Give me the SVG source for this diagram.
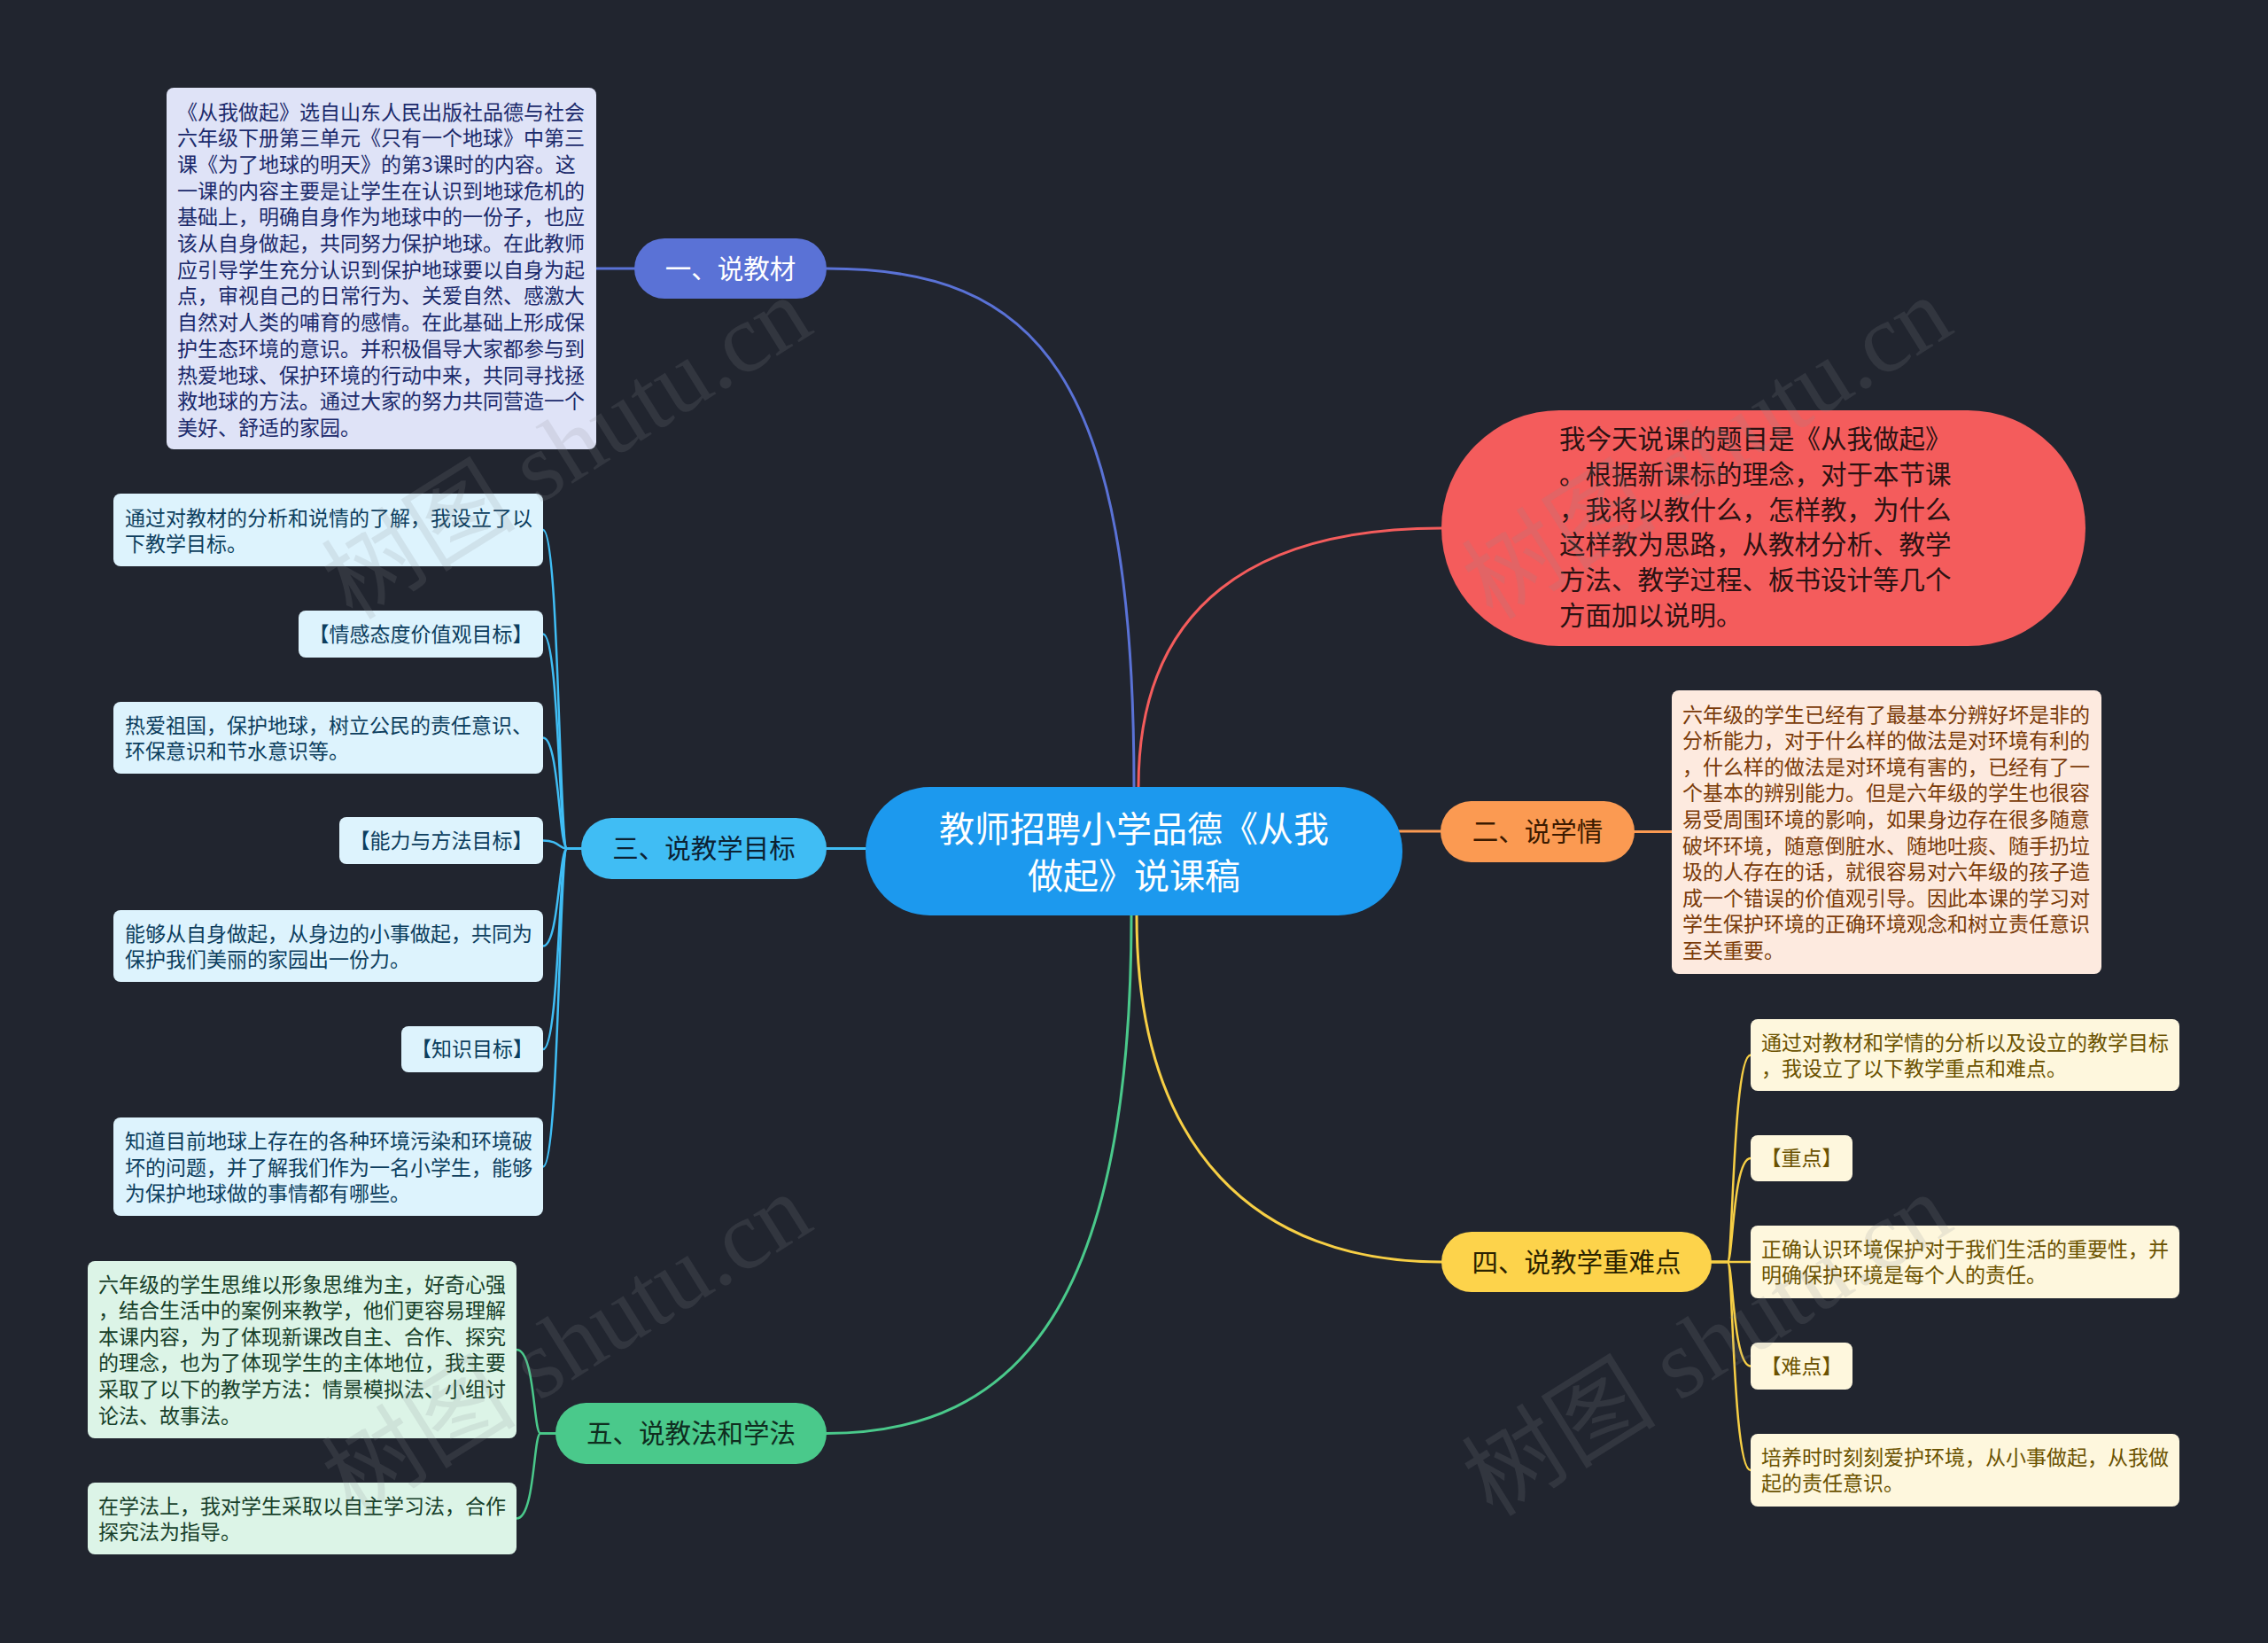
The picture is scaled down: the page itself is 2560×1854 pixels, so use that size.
<svg xmlns="http://www.w3.org/2000/svg" width="2560" height="1854" viewBox="0 0 2560 1854">
<style>
text{font-family:"Noto Sans CJK SC","Noto Sans",sans-serif;dominant-baseline:central}
text:not(.wm){transform:translateY(-2.5px)}
.s23{font-size:23px}
.s29{font-size:29.5px}
.mid{text-anchor:middle}
.wm{font-family:"Liberation Serif","Noto Sans CJK SC",serif;font-size:110px;fill:#8a8d94;opacity:0.16;text-anchor:middle}
</style>
<rect width="2560" height="1854" fill="#21252f"/>

<g id="connectors" fill="none" stroke-width="3" stroke-linecap="round">
  <path d="M1280 888 C1280 420 1170 303 933 303" stroke="#5a72d6"/>
  <path d="M716 303 H673" stroke="#5a72d6"/>
  <path d="M1285 888 C1285 680 1420 596 1627 596" stroke="#f45c5c"/>
  <path d="M1578 938 H1626" stroke="#fb9a52"/>
  <path d="M1845 938.5 H1887" stroke="#fb9a52"/>
  <path d="M977 957.5 H933" stroke="#40bdf4"/>
  <path d="M1283 1033 C1283 1300 1420 1424 1627 1424" stroke="#f7cf45"/>
  <path d="M1277 1033 C1277 1470 1150 1617.5 933 1617.5" stroke="#4ac98b"/>
  <g stroke="#40bdf4" stroke-width="2.5">
    <path d="M656 957.5 H640 C631 957.5 631 598 613 598"/>
    <path d="M656 957.5 H640 C631 957.5 631 715.5 613 715.5"/>
    <path d="M656 957.5 H640 C631 957.5 631 832.5 613 832.5"/>
    <path d="M656 957.5 H640 C631 957.5 631 948.5 613 948.5"/>
    <path d="M656 957.5 H640 C631 957.5 631 1067.5 613 1067.5"/>
    <path d="M656 957.5 H640 C631 957.5 631 1184 613 1184"/>
    <path d="M656 957.5 H640 C631 957.5 631 1316.5 613 1316.5"/>
  </g>
  <g stroke="#4ac98b" stroke-width="2.5">
    <path d="M627 1617.5 H610 C602 1617.5 604 1523 583 1523"/>
    <path d="M627 1617.5 H610 C602 1617.5 604 1713.5 583 1713.5"/>
  </g>
  <g stroke="#f7cf45" stroke-width="2.5">
    <path d="M1932 1424 H1950 C1956 1424 1956 1190.5 1976 1190.5"/>
    <path d="M1932 1424 H1950 C1956 1424 1956 1307 1976 1307"/>
    <path d="M1932 1424 H1976"/>
    <path d="M1932 1424 H1950 C1956 1424 1956 1541.5 1976 1541.5"/>
    <path d="M1932 1424 H1950 C1956 1424 1956 1659 1976 1659"/>
  </g>
</g>

<g id="root">
  <rect x="977" y="888" width="606" height="145" rx="72.5" fill="#1c99ee"/>
  <text class="mid" x="1280" y="935" font-size="40" fill="#ffffff">教师招聘小学品德《从我</text>
  <text class="mid" x="1280" y="988" font-size="40" fill="#ffffff">做起》说课稿</text>
</g>

<g id="intro">
  <rect x="1627" y="463" width="727" height="266" rx="133" fill="#f45c5c"/>
  <g class="s29" fill="#2b1212">
    <text x="1760" y="495.5">我今天说课的题目是《从我做起》</text>
    <text x="1760" y="535.3">。根据新课标的理念，对于本节课</text>
    <text x="1760" y="575.1">，我将以教什么，怎样教，为什么</text>
    <text x="1760" y="614.9">这样教为思路，从教材分析、教学</text>
    <text x="1760" y="654.7">方法、教学过程、板书设计等几个</text>
    <text x="1760" y="694.5">方面加以说明。</text>
  </g>
</g>

<g id="n1">
  <rect x="716" y="269" width="217" height="68" rx="34" fill="#5a72d6"/>
  <text class="s29 mid" x="824.5" y="303" fill="#ffffff">一、说教材</text>
</g>
<g id="n1-detail">
  <rect x="188" y="99" width="485" height="408" rx="8" fill="#dfe3f7"/>
  <g class="s23" fill="#1b2a6b">
    <text x="200" y="127">《从我做起》选自山东人民出版社品德与社会</text>
    <text x="200" y="156.7">六年级下册第三单元《只有一个地球》中第三</text>
    <text x="200" y="186.4">课《为了地球的明天》的第3课时的内容。这</text>
    <text x="200" y="216.1">一课的内容主要是让学生在认识到地球危机的</text>
    <text x="200" y="245.8">基础上，明确自身作为地球中的一份子，也应</text>
    <text x="200" y="275.5">该从自身做起，共同努力保护地球。在此教师</text>
    <text x="200" y="305.2">应引导学生充分认识到保护地球要以自身为起</text>
    <text x="200" y="334.9">点，审视自己的日常行为、关爱自然、感激大</text>
    <text x="200" y="364.6">自然对人类的哺育的感情。在此基础上形成保</text>
    <text x="200" y="394.3">护生态环境的意识。并积极倡导大家都参与到</text>
    <text x="200" y="424">热爱地球、保护环境的行动中来，共同寻找拯</text>
    <text x="200" y="453.7">救地球的方法。通过大家的努力共同营造一个</text>
    <text x="200" y="483.4">美好、舒适的家园。</text>
  </g>
</g>

<g id="n2">
  <rect x="1626" y="904" width="219" height="69" rx="34.5" fill="#fb9a52"/>
  <text class="s29 mid" x="1735.5" y="938.5" fill="#3b1a00">二、说学情</text>
</g>
<g id="n2-detail">
  <rect x="1887" y="779" width="485" height="320" rx="8" fill="#fdeadf"/>
  <g class="s23" fill="#7a3a08">
    <text x="1899" y="807">六年级的学生已经有了最基本分辨好坏是非的</text>
    <text x="1899" y="836.6">分析能力，对于什么样的做法是对环境有利的</text>
    <text x="1899" y="866.2">，什么样的做法是对环境有害的，已经有了一</text>
    <text x="1899" y="895.8">个基本的辨别能力。但是六年级的学生也很容</text>
    <text x="1899" y="925.4">易受周围环境的影响，如果身边存在很多随意</text>
    <text x="1899" y="955">破坏环境，随意倒脏水、随地吐痰、随手扔垃</text>
    <text x="1899" y="984.6">圾的人存在的话，就很容易对六年级的孩子造</text>
    <text x="1899" y="1014.2">成一个错误的价值观引导。因此本课的学习对</text>
    <text x="1899" y="1043.8">学生保护环境的正确环境观念和树立责任意识</text>
    <text x="1899" y="1073.4">至关重要。</text>
  </g>
</g>

<g id="n3">
  <rect x="656" y="923" width="277" height="69" rx="34.5" fill="#40bdf4"/>
  <text class="s29 mid" x="794.5" y="957.5" fill="#0c2233">三、说教学目标</text>
</g>
<g id="n3-a">
  <rect x="128" y="557" width="485" height="82" rx="8" fill="#ddf3fd"/>
  <text class="s23" x="141" y="585" fill="#0c3e5e">通过对教材的分析和说情的了解，我设立了以</text>
  <text class="s23" x="141" y="614" fill="#0c3e5e">下教学目标。</text>
</g>
<g id="n3-b">
  <rect x="337" y="689" width="276" height="53" rx="8" fill="#ddf3fd"/>
  <text class="s23 mid" x="475" y="716" fill="#0c3e5e">【情感态度价值观目标】</text>
</g>
<g id="n3-c">
  <rect x="128" y="792" width="485" height="81" rx="8" fill="#ddf3fd"/>
  <text class="s23" x="141" y="819.5" fill="#0c3e5e">热爱祖国，保护地球，树立公民的责任意识、</text>
  <text class="s23" x="141" y="848.5" fill="#0c3e5e">环保意识和节水意识等。</text>
</g>
<g id="n3-d">
  <rect x="383" y="922" width="230" height="53" rx="8" fill="#ddf3fd"/>
  <text class="s23 mid" x="498" y="949" fill="#0c3e5e">【能力与方法目标】</text>
</g>
<g id="n3-e">
  <rect x="128" y="1027" width="485" height="81" rx="8" fill="#ddf3fd"/>
  <text class="s23" x="141" y="1054" fill="#0c3e5e">能够从自身做起，从身边的小事做起，共同为</text>
  <text class="s23" x="141" y="1083" fill="#0c3e5e">保护我们美丽的家园出一份力。</text>
</g>
<g id="n3-f">
  <rect x="453" y="1158" width="160" height="52" rx="8" fill="#ddf3fd"/>
  <text class="s23 mid" x="533" y="1184.5" fill="#0c3e5e">【知识目标】</text>
</g>
<g id="n3-g">
  <rect x="128" y="1261" width="485" height="111" rx="8" fill="#ddf3fd"/>
  <text class="s23" x="141" y="1288.5" fill="#0c3e5e">知道目前地球上存在的各种环境污染和环境破</text>
  <text class="s23" x="141" y="1318" fill="#0c3e5e">坏的问题，并了解我们作为一名小学生，能够</text>
  <text class="s23" x="141" y="1347.5" fill="#0c3e5e">为保护地球做的事情都有哪些。</text>
</g>

<g id="n4">
  <rect x="1627" y="1390" width="305" height="68" rx="34" fill="#fdd34b"/>
  <text class="s29 mid" x="1779.5" y="1424" fill="#2a2200">四、说教学重难点</text>
</g>
<g id="n4-a">
  <rect x="1976" y="1150" width="484" height="81" rx="8" fill="#fef7dd"/>
  <text class="s23" x="1988" y="1177" fill="#6b5200">通过对教材和学情的分析以及设立的教学目标</text>
  <text class="s23" x="1988" y="1206" fill="#6b5200">，我设立了以下教学重点和难点。</text>
</g>
<g id="n4-b">
  <rect x="1976" y="1281" width="115" height="52" rx="8" fill="#fef7dd"/>
  <text class="s23 mid" x="2033.5" y="1307.5" fill="#6b5200">【重点】</text>
</g>
<g id="n4-c">
  <rect x="1976" y="1383" width="484" height="82" rx="8" fill="#fef7dd"/>
  <text class="s23" x="1988" y="1410.5" fill="#6b5200">正确认识环境保护对于我们生活的重要性，并</text>
  <text class="s23" x="1988" y="1439.5" fill="#6b5200">明确保护环境是每个人的责任。</text>
</g>
<g id="n4-d">
  <rect x="1976" y="1515" width="115" height="53" rx="8" fill="#fef7dd"/>
  <text class="s23 mid" x="2033.5" y="1542" fill="#6b5200">【难点】</text>
</g>
<g id="n4-e">
  <rect x="1976" y="1618" width="484" height="82" rx="8" fill="#fef7dd"/>
  <text class="s23" x="1988" y="1645.5" fill="#6b5200">培养时时刻刻爱护环境，从小事做起，从我做</text>
  <text class="s23" x="1988" y="1674.5" fill="#6b5200">起的责任意识。</text>
</g>

<g id="n5">
  <rect x="627" y="1583" width="306" height="69" rx="34.5" fill="#4ac98b"/>
  <text class="s29 mid" x="780" y="1617.5" fill="#0f2e1f">五、说教法和学法</text>
</g>
<g id="n5-a">
  <rect x="99" y="1423" width="484" height="200" rx="8" fill="#dcf4e7"/>
  <g class="s23" fill="#17402a">
    <text x="111" y="1450">六年级的学生思维以形象思维为主，好奇心强</text>
    <text x="111" y="1479.6">，结合生活中的案例来教学，他们更容易理解</text>
    <text x="111" y="1509.2">本课内容，为了体现新课改自主、合作、探究</text>
    <text x="111" y="1538.8">的理念，也为了体现学生的主体地位，我主要</text>
    <text x="111" y="1568.4">采取了以下的教学方法：情景模拟法、小组讨</text>
    <text x="111" y="1598">论法、故事法。</text>
  </g>
</g>
<g id="n5-b">
  <rect x="99" y="1673" width="484" height="81" rx="8" fill="#dcf4e7"/>
  <text class="s23" x="111" y="1700" fill="#17402a">在学法上，我对学生采取以自主学习法，合作</text>
  <text class="s23" x="111" y="1729" fill="#17402a">探究法为指导。</text>
</g>

<g id="watermark">
  <text class="wm" transform="translate(640 506) rotate(-32)">树图 shutu.cn</text>
  <text class="wm" transform="translate(1927 506) rotate(-32)">树图 shutu.cn</text>
  <text class="wm" transform="translate(640 1518) rotate(-32)">树图 shutu.cn</text>
  <text class="wm" transform="translate(1927 1518) rotate(-32)">树图 shutu.cn</text>
</g>
</svg>
